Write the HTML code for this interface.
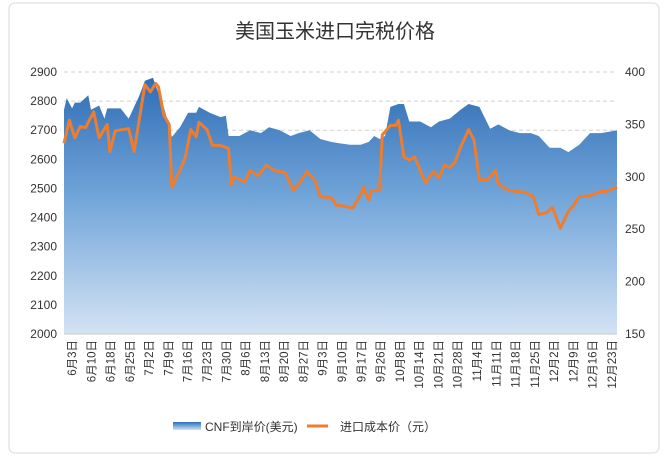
<!DOCTYPE html>
<html><head><meta charset="utf-8"><style>
body{margin:0;background:#fff;}
#wrap{position:relative;width:668px;height:458px;overflow:hidden;}
svg text{font-family:"Liberation Sans","Noto Sans CJK SC",sans-serif;}
</style></head><body>
<div id="wrap">
<svg id="chart" width="668" height="458">
<defs><linearGradient id="ag" x1="0" y1="0" x2="0" y2="1">
<stop offset="0" stop-color="#2f6db5"/><stop offset="0.45" stop-color="#6fa3d8"/><stop offset="1" stop-color="#d3e3f4"/></linearGradient></defs>
<rect x="9" y="3" width="650" height="450" rx="6" fill="#fff" stroke="#d9d9d9"/>
<text x="335" y="38" font-size="20" text-anchor="middle" fill="#333">美国玉米进口完税价格</text>
<g id="g"></g>
</svg></div>
<script>
const leftTicks=[2000,2100,2200,2300,2400,2500,2600,2700,2800,2900];
const rightTicks=[150,200,250,300,350,400];
const xLabels=["6月3日","6月10日","6月18日","6月25日","7月2日","7月9日","7月16日","7月23日","7月30日","8月6日","8月13日","8月20日","8月27日","9月3日","9月10日","9月17日","9月26日","10月8日","10月14日","10月21日","10月28日","11月4日","11月11日","11月18日","11月25日","12月2日","12月9日","12月16日","12月23日"];
const cnfDays=[0,1,3,4,6,9,10,13,15,16,21,24,28,30,33,36,37,40,43,46,49,50,54,58,60,61,65,69,73,76,80,84,87,91,95,99,102,106,110,113,115,117,119,121,124,126,128,132,136,139,143,147,150,154,158,161,165,169,173,176,180,184,187,191,195,199,202,205];
const cnfValues=[2770,2810,2775,2795,2795,2820,2770,2785,2740,2775,2775,2740,2820,2870,2880,2800,2780,2677,2710,2760,2760,2780,2760,2745,2750,2680,2680,2700,2690,2710,2700,2680,2690,2700,2670,2660,2655,2650,2650,2660,2680,2670,2680,2780,2790,2790,2730,2730,2710,2730,2740,2770,2790,2780,2705,2720,2700,2690,2690,2680,2640,2640,2625,2650,2690,2690,2695,2700];
const costDays=[0,2,4,6,8,11,13,16,17,19,24,26,30,32,34,35,37,39,40,43,45,47,49,50,53,55,58,61,62,63,67,69,72,75,78,82,85,87,90,93,95,99,101,104,107,110,111,113,114,117,118,121,123,124,126,128,130,134,136,137,139,141,143,145,147,150,152,154,157,160,161,165,171,174,176,179,181,184,187,189,191,195,199,201,205];
const costValues=[332,354,337,348,347,362,337,350,324,344,346,324,388,381,389,386,359,350,290,306,319,345,338,352,345,330,330,327,292,300,295,306,301,311,306,304,287,293,305,297,281,280,273,272,270,283,290,278,287,287,340,349,349,354,319,316,319,294,302,305,299,311,309,314,328,345,335,297,297,306,293,287,285,281,264,266,271,251,267,273,281,282,286,286,290];
const X0=64,X1=617,YT=72,YB=334;
const xs=d=>X0+(d/205)*(X1-X0);
const yl=v=>YB-(v-2000)/900*(YB-YT);
const yr=v=>YB-(v-150)/250*(YB-YT);
const NS="http://www.w3.org/2000/svg",g=document.getElementById('g');
function mk(t,a){const e=document.createElementNS(NS,t);for(const k in a)e.setAttribute(k,a[k]);g.appendChild(e);return e;}
leftTicks.forEach(v=>{
 const l=mk('line',{x1:X0,x2:X1,y1:yl(v),y2:yl(v),stroke:'#d0d0d0','stroke-dasharray':'4,3'});
 
 
 const t=mk('text',{x:57,y:yl(v)+4,'font-size':12,'text-anchor':'end',fill:'#333'});t.textContent=v;
 
 
});
rightTicks.forEach(v=>{
 const t=mk('text',{x:625,y:yr(v)+4,'font-size':12,fill:'#333'});t.textContent=v;
 
 
});
let p='M'+xs(cnfDays[0])+','+YB;
cnfDays.forEach((d,i)=>p+=' L'+xs(d).toFixed(1)+','+yl(cnfValues[i]).toFixed(1));
p+=' L'+xs(cnfDays[cnfDays.length-1])+','+YB+' Z';
const area=mk('path',{d:p,fill:'url(#ag)'});


const ax=mk('line',{x1:X0,x2:X1,y1:YB,y2:YB,stroke:'#c8c8c8'});


let lp='';
costDays.forEach((d,i)=>lp+=(i?' L':'M')+xs(d).toFixed(1)+','+yr(costValues[i]).toFixed(1));
const line=mk('path',{d:lp,fill:'none',stroke:'#ed7d31','stroke-width':3,'stroke-linejoin':'round'});


const n=xLabels.length;
xLabels.forEach((s,i)=>{
 const x=72+i*(612-72)/(n-1);
 const t=mk('text',{x:0,y:0,'font-size':11.5,'text-anchor':'end',fill:'#333',transform:`translate(${x+4},340) rotate(-90)`});
 t.textContent=s;
 
 
});
const sw=mk('rect',{x:173,y:422,width:28,height:8,fill:'url(#ag)'});


const t1=mk('text',{x:205,y:431,'font-size':12,fill:'#333'});t1.textContent='CNF到岸价(美元)';


const ol=mk('line',{x1:307,x2:328,y1:426,y2:426,stroke:'#ed7d31','stroke-width':3});


const t2=mk('text',{x:340,y:431,'font-size':12,fill:'#333'});t2.textContent='进口成本价（元）';


</script>
</body></html>
